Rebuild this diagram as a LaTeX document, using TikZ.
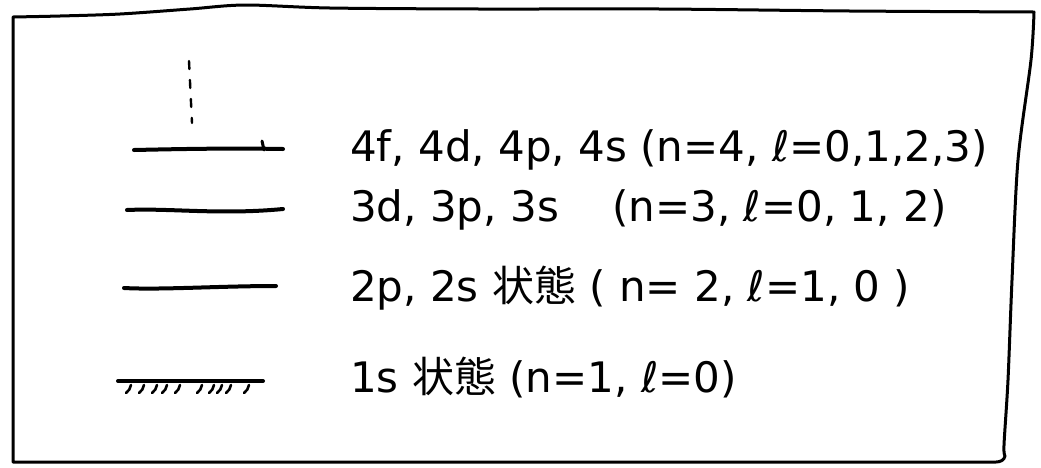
\documentclass[tikz,border=0pt]{standalone}
\usepackage{fontspec}
\setmainfont{DejaVu Sans}
\newfontfamily\jpfont{Noto Sans CJK JP}

\begin{document}
\begin{tikzpicture}[x=1pt, y=-1pt,
  frame/.style={line width=3pt, line join=round},
  level/.style={line width=4pt, line cap=round},
  hatch/.style={line width=2.6pt, line cap=round},
  statelabel/.style={anchor=west, inner sep=0pt, font=\fontsize{42}{44}\selectfont}]
  \useasboundingbox (0,0) rectangle (1041,467);
  % Frame
  \draw[frame] plot[smooth] coordinates {(13,17) (60,16) (120,14) (190,9) (245,5) (330,8) (480,9) (660,9) (850,11) (1034,12)}
    -- plot[smooth] coordinates {(1034,12) (1031,60) (1018,160) (1012,280) (1008,380) (1004,445) (1005,456)}
    to[out=-100,in=0] (996,462) -- (13,462) -- cycle;
  % Energy levels
  \coordinate (l4a) at (134,150); \coordinate (l4b) at (283,149);
  \coordinate (l3a) at (127,210); \coordinate (l3b) at (283,209);
  \coordinate (l2a) at (124,288); \coordinate (l2b) at (276,286);
  \coordinate (l1a) at (118,381); \coordinate (l1b) at (263,381);
  \draw[level] (l4a) .. controls (180,149) and (230,148) .. (l4b);
  \draw[line width=3pt, line cap=round] (262,141) -- (264,150);
  \draw[level] (l3a) .. controls (170,208) and (220,215) .. (l3b);
  \draw[level] (l2a) .. controls (160,290) and (220,286) .. (l2b);
  \draw[level] (l1a) -- (l1b);
  % Hatching below 1s
  \foreach \x in {128,141,154,164,177,199,211,219,228,246}
    \draw[hatch] (\x+3,385) to[bend left=20] (\x-2,393);
  % Higher levels
  \draw[line width=2.4pt, line cap=round, dash pattern=on 8pt off 11pt] (189,61) -- (192,123);
  % Labels
  \node[statelabel] (s4) at (350,150) {4f, 4d, 4p, 4s (n=4, ℓ=0,1,2,3)};
  \node[statelabel] (s3) at (350,210) {3d, 3p, 3s \ \ \ (n=3, ℓ=0, 1, 2)};
  \node[statelabel] (s2) at (350,288) {2p, 2s {\jpfont 状態} ( n= 2, ℓ=1, 0 )};
  \node[statelabel] (s1) at (350,378) {1s {\jpfont 状態} (n=1, ℓ=0)};
\end{tikzpicture}
\end{document}
